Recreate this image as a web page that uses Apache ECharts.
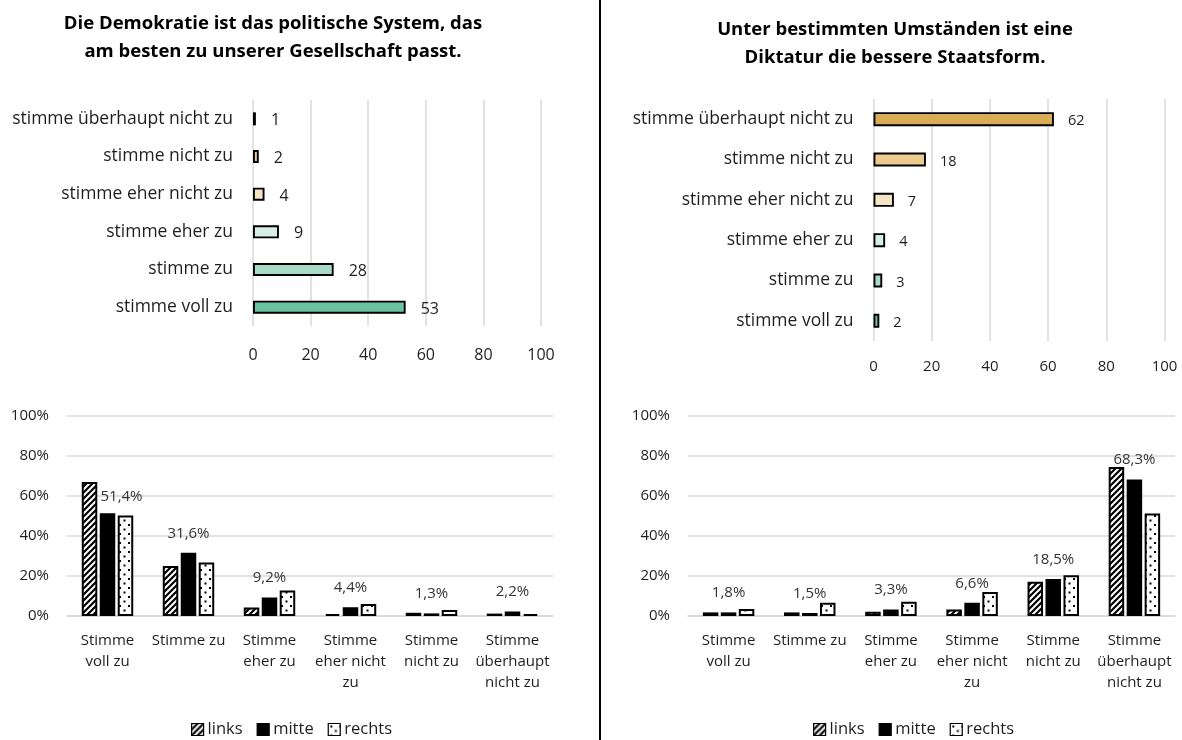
<!DOCTYPE html>
<html>
<head>
<meta charset="utf-8">
<script src="https://cdn.jsdelivr.net/npm/echarts@6/dist/echarts.min.js"></script>
<style>
html, body { margin: 0; padding: 0; background: #fff; }
#chart { width: 1182px; height: 740px; }
</style>
</head>
<body>
<div id="chart"></div>
<script>
// obere Diagramme, Anteile in %, von oben nach unten
var topCats = ['stimme überhaupt nicht zu', 'stimme nicht zu', 'stimme eher nicht zu', 'stimme eher zu', 'stimme zu', 'stimme voll zu'];
var demokratieWerte = [1, 2, 4, 9, 28, 53];
var diktaturWerte = [62, 18, 7, 4, 3, 2];
var topFarben = ['#D9AD55', '#EDCB8F', '#F6E4C6', '#D6EEE6', '#A9DCC8', '#6BC3A3'];
var topTicks = [0, 20, 40, 60, 80, 100];

// untere Diagramme, nach politischer Selbsteinordnung
var bottomCats = ['Stimme\nvoll zu', 'Stimme zu', 'Stimme\neher zu', 'Stimme\neher nicht\nzu', 'Stimme\nnicht zu', 'Stimme\nüberhaupt\nnicht zu'];
var lager = ['links', 'mitte', 'rechts'];
var demoLinks = [67, 25, 4.2, 1.0, 1.6, 1.2];
var demoMitte = [51.4, 31.6, 9.2, 4.4, 1.3, 2.2];
var demoRechts = [50.2, 26.8, 12.7, 6.0, 3.0, 1.0];
var diktLinks = [1.8, 1.8, 2.1, 3.3, 17.1, 74.5];
var diktMitte = [1.8, 1.5, 3.3, 6.6, 18.5, 68.3];
var diktRechts = [3.5, 6.6, 7.1, 12.0, 20.4, 51.2];
var pctTicks = [0, 20, 40, 60, 80, 100];

var FONT = '"Open Sans", "Noto Sans", sans-serif';
var TXT = '#1e1e1e';
var GRID = '#d9d9d9';

function stripes() {
    var c = document.createElement('canvas');
    c.width = 6; c.height = 6;
    var g = c.getContext('2d');
    g.fillStyle = '#fff'; g.fillRect(0, 0, 6, 6);
    g.strokeStyle = '#000'; g.lineWidth = 2.2;
    g.beginPath();
    g.moveTo(-3, 3); g.lineTo(3, -3);
    g.moveTo(0, 6); g.lineTo(6, 0);
    g.moveTo(3, 9); g.lineTo(9, 3);
    g.stroke();
    return c;
}
function dots() {
    var c = document.createElement('canvas');
    c.width = 9; c.height = 9;
    var g = c.getContext('2d');
    g.fillStyle = '#fff'; g.fillRect(0, 0, 9, 9);
    g.fillStyle = '#000';
    g.fillRect(2, 2, 2, 2);
    g.fillRect(6.5, 6.5, 2, 2);
    return c;
}
var fills = [
    { image: stripes(), repeat: 'repeat' },
    '#000',
    { image: dots(), repeat: 'repeat' }
];

function pct(v) { return v.toFixed(1).replace('.', ',') + '%'; }

function topBar(vals, idx, labelSize, barW, dist) {
    return {
        type: 'bar', xAxisIndex: idx, yAxisIndex: idx,
        barWidth: barW,
        data: vals.map(function (v, i) {
            return { value: v, itemStyle: { color: topFarben[i] } };
        }),
        itemStyle: { borderColor: '#000', borderWidth: 1.9 },
        label: { show: true, position: 'right', distance: dist, offset: [0, 2],
            fontSize: labelSize, fontFamily: FONT, color: TXT },
        silent: true
    };
}

function groupSeries(links, mitte, rechts, idx, firstOffset) {
    var sets = [links, mitte, rechts];
    return sets.map(function (vals, s) {
        var ser = {
            type: 'bar', name: lager[s], xAxisIndex: idx, yAxisIndex: idx,
            barWidth: 15.5, barGap: '16%',
            itemStyle: { color: fills[s], borderColor: '#000', borderWidth: 2 },
            data: vals.slice(),
            silent: true
        };
        if (s === 1) {
            ser.data = vals.map(function (v, i) {
                return (i === 0 && firstOffset) ? { value: v, label: { offset: firstOffset } } : v;
            });
            ser.label = { show: true, position: 'top', distance: 12,
                formatter: function (p) { return pct(p.value); },
                fontSize: 15, fontFamily: FONT, color: '#333' };
        }
        return ser;
    });
}

function topY(idx) {
    return {
        type: 'category', gridIndex: idx, data: topCats, inverse: true,
        axisLine: { show: false }, axisTick: { show: false },
        axisLabel: { fontSize: 17.5, fontFamily: FONT, color: TXT, margin: 20 }
    };
}
function topX(idx, size, margin) {
    return {
        type: 'value', gridIndex: idx,
        min: topTicks[0], max: topTicks[topTicks.length - 1], interval: topTicks[1] - topTicks[0],
        axisLine: { show: false }, axisTick: { show: false },
        splitLine: { lineStyle: { color: GRID, width: 1.5 } },
        axisLabel: { fontSize: size, fontFamily: FONT, color: TXT, margin: margin }
    };
}
function botX(idx) {
    return {
        type: 'category', gridIndex: idx, data: bottomCats,
        axisLine: { lineStyle: { color: GRID, width: 1.5 } }, axisTick: { show: false },
        axisLabel: { interval: 0, fontSize: 15, lineHeight: 21, fontFamily: FONT, color: TXT, margin: 14 }
    };
}
function botY(idx) {
    return {
        type: 'value', gridIndex: idx,
        min: pctTicks[0], max: pctTicks[pctTicks.length - 1], interval: pctTicks[1] - pctTicks[0],
        axisLine: { show: false }, axisTick: { show: false },
        splitLine: { lineStyle: { color: GRID, width: 1.5 } },
        axisLabel: { formatter: '{value}%', fontSize: 15, fontFamily: FONT, color: TXT, margin: 18 }
    };
}
function legend(left) {
    return {
        data: lager, left: left, top: 716, icon: 'rect',
        itemWidth: 12, itemHeight: 12, itemGap: 14,
        itemStyle: { borderColor: '#000', borderWidth: 1.2 },
        textStyle: { fontSize: 16.5, fontFamily: FONT, color: TXT, padding: [0, 0, 0, -1] },
        selectedMode: false
    };
}

var option = {
    animation: false,
    backgroundColor: '#fff',
    textStyle: { fontFamily: FONT },
    graphic: [
        { type: 'line', shape: { x1: 600, y1: 0, x2: 600, y2: 740 }, style: { stroke: '#000', lineWidth: 2 } },
        { type: 'text', x: 273, y: 38, style: {
            text: 'Die Demokratie ist das politische System, das\nam besten zu unserer Gesellschaft passt.',
            align: 'center', verticalAlign: 'middle', lineHeight: 28,
            font: 'bold 18.5px ' + FONT, fill: '#000' } },
        { type: 'text', x: 895, y: 44, style: {
            text: 'Unter bestimmten Umständen ist eine\nDiktatur die bessere Staatsform.',
            align: 'center', verticalAlign: 'middle', lineHeight: 28,
            font: 'bold 18.5px ' + FONT, fill: '#000' } }
    ],
    grid: [
        { left: 253, top: 100, width: 288, height: 226 },
        { left: 873.5, top: 99, width: 291, height: 242 },
        { left: 67, top: 416, width: 486, height: 200 },
        { left: 688, top: 416, width: 487, height: 200 }
    ],
    legend: [legend(186), legend(808)],
    xAxis: [topX(0, 16, 21), topX(1, 15, 18), botX(2), botX(3)],
    yAxis: [topY(0), topY(1), botY(2), botY(3)],
    series: [topBar(demokratieWerte, 0, 16, 13, 15), topBar(diktaturWerte, 1, 14.5, 14, 14)]
        .concat(groupSeries(demoLinks, demoMitte, demoRechts, 2, [14, 3]))
        .concat(groupSeries(diktLinks, diktMitte, diktRechts, 3, null))
};

var chart = echarts.init(document.getElementById('chart'), null, { renderer: 'canvas' });
chart.setOption(option);
window.onresize = function () { chart.resize(); };
</script>
</body>
</html>
